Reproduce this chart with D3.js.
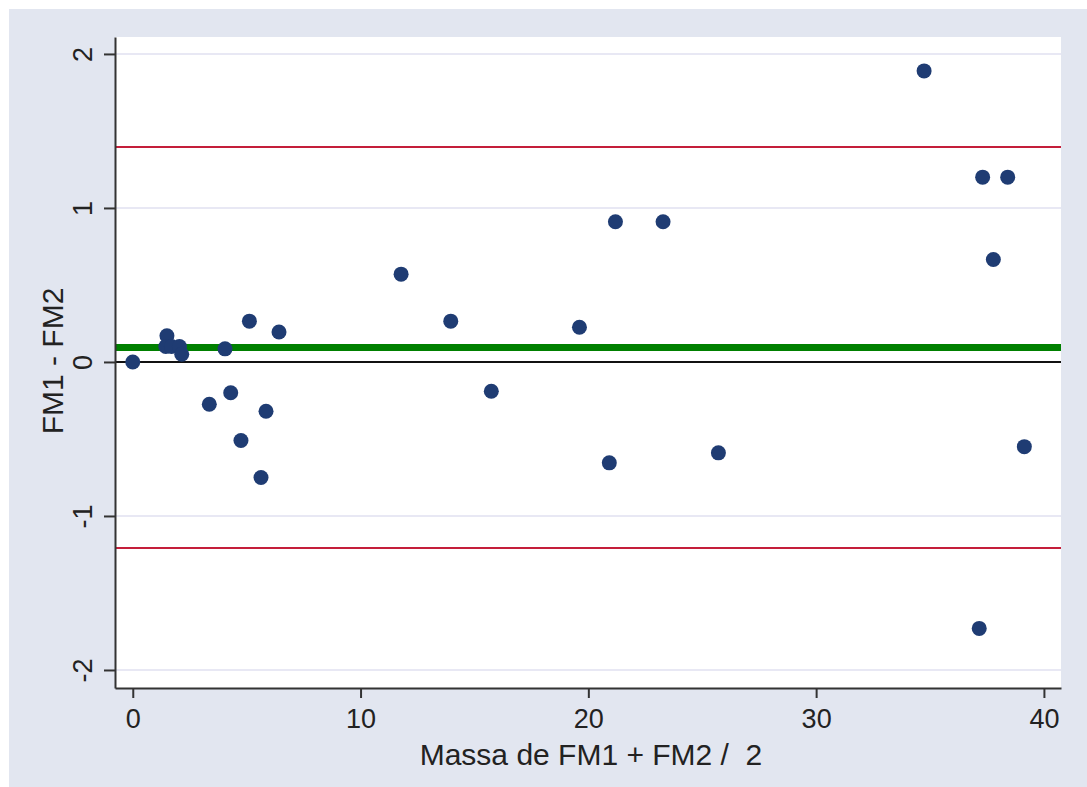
<!DOCTYPE html>
<html lang="en">
<head>
    <meta charset="UTF-8">
    <title>FM1 - FM2 Bland-Altman</title>
    <script src="https://d3js.org/d3.v7.min.js"></script>
    <style>
        body { margin: 0; background: #ffffff; }
        .axis text { font-family: "Liberation Sans", Arial, sans-serif; font-size: 27px; fill: #222; }
        .axis path, .axis line { stroke: #333; stroke-width: 2; }
        .title { font-family: "Liberation Sans", Arial, sans-serif; font-size: 30px; fill: #222; white-space: pre; }
    </style>
</head>
<body>
<div id="chart"></div>
<script>
    const meanVals = [0, 1.5, 1.45, 1.7, 2.05, 2.15, 3.36, 4.05, 4.3, 4.75, 5.12, 5.63, 5.85, 6.42,
                      11.78, 13.96, 15.74, 19.61, 20.92, 21.19, 23.28, 25.71,
                      34.74, 37.16, 37.31, 37.78, 38.41, 39.14];
    const diffVals = [0, 0.17, 0.1, 0.1, 0.1, 0.05, -0.275, 0.085, -0.2, -0.51, 0.265, -0.75, -0.32, 0.195,
                      0.57, 0.265, -0.19, 0.225, -0.655, 0.91, 0.91, -0.59,
                      1.89, -1.73, 1.2, 0.665, 1.2, -0.55];
    const meanDiff = 0.094;
    const limits = [1.396, -1.208];
    const xTicks = [0, 10, 20, 30, 40];
    const yTicks = [-2, -1, 0, 1, 2];

    const W = 1087, H = 787;
    const plot = { left: 115, right: 1061, top: 37, bottom: 688 };

    const svg = d3.select("#chart").append("svg")
        .attr("width", W)
        .attr("height", H);

    // outer background
    svg.append("rect").attr("x", 9).attr("y", 9)
        .attr("width", W - 9).attr("height", H - 9)
        .attr("fill", "#e2e6f0");

    svg.append("rect")
        .attr("x", plot.left).attr("y", plot.top)
        .attr("width", plot.right - plot.left).attr("height", plot.bottom - plot.top)
        .attr("fill", "#ffffff");

    const x = d3.scaleLinear().domain([-0.78, 40.75]).range([plot.left, plot.right]);
    const y = d3.scaleLinear().domain([-2.117, 2.11]).range([plot.bottom, plot.top]);

    // grid lines
    svg.append("g").selectAll("line")
        .data(yTicks)
        .enter().append("line")
        .attr("x1", plot.left).attr("x2", plot.right)
        .attr("y1", d => y(d)).attr("y2", d => y(d))
        .attr("stroke", "#e0e0f0")
        .attr("stroke-width", 1.5);

    // zero line
    svg.append("line")
        .attr("x1", plot.left).attr("x2", plot.right)
        .attr("y1", y(0)).attr("y2", y(0))
        .attr("stroke", "#111").attr("stroke-width", 2);

    // limits of agreement
    svg.append("g").selectAll("line")
        .data(limits)
        .enter().append("line")
        .attr("x1", plot.left).attr("x2", plot.right)
        .attr("y1", d => y(d)).attr("y2", d => y(d))
        .attr("stroke", "#c41e3a")
        .attr("stroke-width", 2);

    // mean difference
    svg.append("line")
        .attr("x1", plot.left).attr("x2", plot.right)
        .attr("y1", y(meanDiff)).attr("y2", y(meanDiff))
        .attr("stroke", "#008000").attr("stroke-width", 7);

    // points
    const points = meanVals.map((m, i) => ({ m: m, d: diffVals[i] }));
    svg.append("g").selectAll("circle")
        .data(points)
        .enter().append("circle")
        .attr("cx", d => x(d.m))
        .attr("cy", d => y(d.d))
        .attr("r", 7.5)
        .attr("fill", "#1f3c73");

    // axes
    svg.append("g")
        .attr("class", "axis")
        .attr("transform", `translate(0,${plot.bottom})`)
        .call(d3.axisBottom(x).tickValues(xTicks).tickFormat(d => String(d))
            .tickSize(10).tickSizeOuter(0).tickPadding(11))
        .selectAll("text")
        .attr("dy", "0.71em");

    const yAxis = svg.append("g")
        .attr("class", "axis")
        .attr("transform", `translate(${plot.left},0)`)
        .call(d3.axisLeft(y).tickValues(yTicks).tickFormat(d => String(d))
            .tickSize(11).tickSizeOuter(0));

    yAxis.selectAll("text")
        .attr("transform", "rotate(-90)")
        .attr("x", 0)
        .attr("y", -23)
        .attr("dy", 0)
        .style("text-anchor", "middle");

    // titles
    svg.append("text")
        .attr("class", "title")
        .attr("x", 591)
        .attr("y", 765)
        .attr("text-anchor", "middle")
        .text("Massa de FM1 + FM2 /  2");

    svg.append("text")
        .attr("class", "title")
        .attr("transform", "rotate(-90)")
        .attr("x", -361)
        .attr("y", 63)
        .attr("text-anchor", "middle")
        .text("FM1 - FM2");
</script>
</body>
</html>
